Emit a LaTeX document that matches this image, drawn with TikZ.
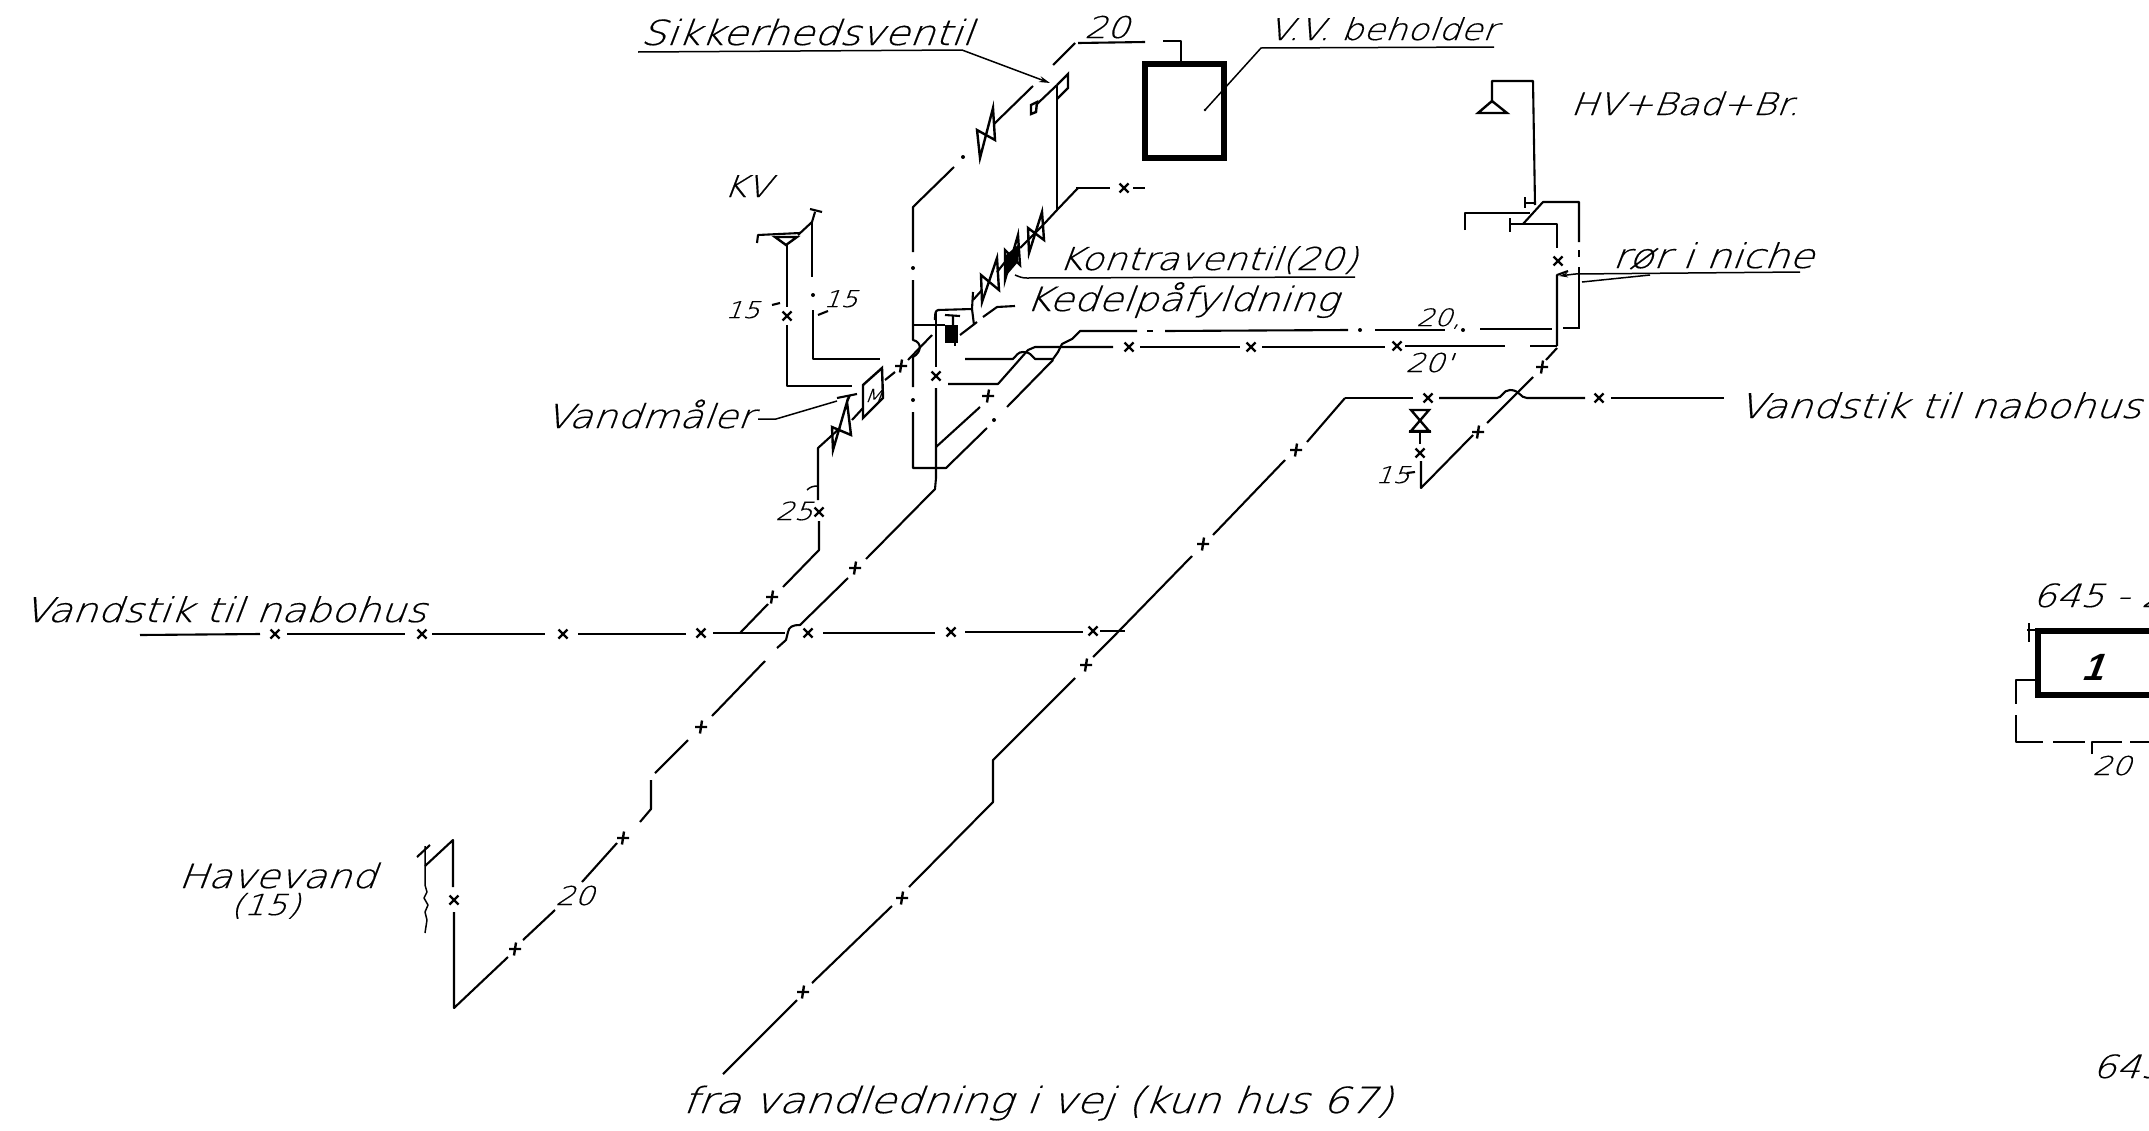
\documentclass[tikz,border=0pt]{standalone}
\usepackage{fontspec}
\usetikzlibrary{arrows.meta}
\newfontfamily\hand[FakeSlant=0.38,FakeStretch=1.17,FakeBold=0.4]{DejaVu Sans ExtraLight}
\newfontfamily\handb[FakeSlant=0.38]{Liberation Sans Bold}
\newcommand\xm[2]{\draw[mark line] (#1,#2) +(-4.5,-4.5) -- +(4.5,4.5) +(-4.5,4.5) -- +(4.5,-4.5);}
\newcommand\pl[2]{\draw[mark line] (#1,#2) +(-6,0) -- +(6,0) +(1,-6.5) -- +(-1,6.5);}
\newcommand\lab[4]{\node[labeltext,font=\hand\fontsize{#3}{#3}\selectfont] at (#1,#2) {#4};}
\tikzset{
  pipe/.style={line width=2.1pt,line join=round,black},
  thin pipe/.style={line width=1.5pt,line join=round,black},
  mark line/.style={line width=2.4pt,black},
  valve/.style={line width=2.4pt,line join=miter,black},
  labeltext/.style={anchor=base west,inner sep=0pt,black},
  vessel/.style={line width=5.6pt,black,line join=miter},
}
\begin{document}
\begin{tikzpicture}[x=1pt,y=-1pt]
\useasboundingbox (0,0) rectangle (2149,1130);
\fill[white] (0,0) rectangle (2149,1130);
\clip (0,0) rectangle (2149,1130);

% ---- labels
\lab{640}{45}{34.5}{Sikkerhedsventil}
\lab{1084}{38}{30}{20}
\lab{1268}{40}{30}{V.V. beholder}
\lab{1570}{115}{31}{HV+Bad+Br.}
\lab{723}{197}{30}{KV}
\lab{1058}{270}{31.5}{Kontraventil(20)}
\lab{1025}{311}{33.5}{Kedelpåfyldning}
\lab{1612}{268}{34}{rør i niche}
\lab{725}{318}{23}{15}
\lab{823}{307}{23}{15}
\lab{1416}{326}{24}{20,}
\lab{1405}{372}{26}{20'}
\lab{545}{428}{33}{Vandmåler}
\lab{775}{520}{25}{25}
\lab{1375}{483}{23}{15}
\lab{1738}{418}{34}{Vandstik til nabohus}
\lab{23}{622}{34}{Vandstik til nabohus}
\lab{178}{888}{33.5}{Havevand}
\lab{230}{915}{29}{(15)}
\lab{555}{905}{26}{20}
\lab{682}{1113}{36}{fra vandledning i vej (kun hus 67)}
\lab{2032}{607}{32}{645 - 2}
\lab{2092}{775}{26}{20}
\lab{2092}{1078}{32}{645}
\node[labeltext,font=\handb\fontsize{38}{38}\selectfont] at (2081,680) {1};
\lab{864}{402}{18}{M}

% ---- leaders
\draw[thin pipe] (638,52) -- (962,50);
\draw[thin pipe,-{Stealth[length=11pt,width=6pt]}] (962,50) -- (1050,83);
\draw[thin pipe] (1494,47) -- (1261,48) -- (1205,110);
\fill (1205,110) circle (1.3pt);
\draw[thin pipe] (1015,275) .. controls (1020,277) and (1022,278) .. (1027,278) -- (1355,277);
\draw[pipe] (960,335) -- (977,322);
\draw[pipe] (983,317) -- (997,307) -- (1015,306);
\draw[thin pipe] (758,419) -- (776,419) -- (837,401);
\draw[thin pipe] (1800,272) -- (1575,274);
\draw[thin pipe,-{Stealth[length=9pt,width=5pt]}] (1575,274) -- (1559,276);
\draw[thin pipe] (1582,282) -- (1650,275);
\draw[pipe] (772,305) -- (780,303);
\draw[pipe] (818,315) -- (828,311);
\draw[pipe] (1407,473) -- (1415,472);
\draw[thin pipe] (807,490) .. controls (810,487) and (813,486) .. (818,486);

% ---- V.V. beholder and feed
\draw[vessel] (1145,64) rectangle (1224,158);
\draw[pipe] (1053,65) -- (1075,43);
\draw[pipe] (1078,43) -- (1145,42);
\draw[pipe] (1163,41) -- (1181,41) -- (1181,62);
\draw[pipe] (1076,188) -- (1110,188);
\xm{1124}{188}
\draw[pipe] (1133,188) -- (1145,188);
\draw[pipe] (1057,85) -- (1057,210);
\draw[pipe] (1078,188) -- (1057,210) -- (1044,224);

% safety valve
\draw[valve] (1057,85) -- (1068,74) -- (1068,88) -- (1057,99);
\draw[pipe] (1037,104) -- (1057,85);
\draw[valve] (1031,105) -- (1037,102) -- (1036,112) -- (1031,114) -- cycle;

% cold riser with check valve
\draw[pipe] (1033,86) -- (994,124);
\draw[valve] (993,108) -- (995,140) -- (977,130) -- (980,158) -- cycle;
\fill (963,157) circle (2pt);
\draw[pipe] (954,167) -- (913,207) -- (913,252);
\fill (913,268) circle (2pt);
\draw[pipe] (913,280) -- (913,340) .. controls (922,342) and (922,352) .. (913,357) -- (913,387);
\fill (913,400) circle (2pt);
\draw[pipe] (913,412) -- (913,468) -- (946,468) -- (987,428);
\fill (994,420) circle (2pt);
\draw[pipe] (1007,407) -- (1053,360);
\draw[pipe] (913,325) -- (945,325);

% three check valves on the hot line
\draw[pipe] (1044,224) -- (1020,248) (1005,262) -- (997,272) (982,290) -- (973,300);
\draw[valve] (1042,212) -- (1044,240) -- (1028,228) -- (1029,253) -- cycle;
\draw[valve] (1018,235) -- (1020,265) -- (1005,250) -- (1005,280) -- cycle;
\fill (1018,245) -- (1018,262) -- (1006,276) -- (1006,255) -- cycle;
\draw[valve] (997,258) -- (999,290) -- (981,275) -- (982,302) -- cycle;
\draw[pipe] (973,292) -- (972,309) -- (938,310) .. controls (935,311) and (935,314) .. (935,320);
\draw[pipe] (972,309) -- (974,325);

% Kedelpaafyldning valve
\draw[pipe] (945,315) -- (960,316) (953,316) -- (953,325);
\fill (945,325) -- (958,325) -- (958,343) -- (945,343) -- cycle;
\draw[pipe] (955,343) -- (955,346);
\draw[pipe] (936,312) -- (936,367);
\xm{936}{376}
\draw[pipe] (936,388) -- (936,478) -- (935,489) -- (866,559);
\draw[pipe] (936,447) -- (980,407);
\pl{988}{396}
\draw[pipe] (948,384) -- (998,384) -- (1028,350) -- (1035,347) -- (1113,347);
\xm{1129}{347}
\draw[pipe] (1140,347) -- (1240,347);
\xm{1251}{347}
\draw[pipe] (1262,347) -- (1385,347);
\xm{1397}{346}
\draw[pipe] (1405,346) -- (1505,346);
\draw[pipe] (1530,346) -- (1557,346);
\draw[pipe] (965,359) -- (1013,359) .. controls (1017,355) and (1018,352) .. (1023,352)
  .. controls (1030,352) and (1031,355) .. (1035,359) -- (1053,359)
  -- (1058,352) -- (1062,344) -- (1072,339) -- (1080,331) -- (1137,331);
\draw[pipe] (1147,331) -- (1153,331);
\draw[pipe] (1165,331) -- (1348,330);
\fill (1360,330) circle (2pt);
\draw[pipe] (1375,330) -- (1445,330);
\fill (1463,330) circle (2pt);
\draw[pipe] (1480,329) -- (1552,329);
\draw[pipe] (1563,328) -- (1580,328);

% meter, cold connection
\draw[valve] (863,385) -- (882,368) -- (883,398) -- (863,418) -- cycle;
\draw[pipe] (885,380) -- (895,372);
\pl{901}{366}
\draw[pipe] (908,360) -- (932,335);
\draw[pipe] (852,420) -- (863,408);
\draw[pipe] (837,398) -- (857,394) (850,395) -- (847,402);
\draw[valve] (847,402) -- (851,435) -- (832,427) -- (833,450) -- cycle;
\draw[pipe] (840,428) -- (818,448) -- (818,500);
\xm{819}{512}
\draw[pipe] (819,521) -- (819,550) -- (783,587);
\pl{772}{597}
\draw[pipe] (768,604) -- (740,633);

% KV
\draw[pipe] (810,209) -- (822,212) (815,212) -- (812,222);
\draw[pipe] (812,222) -- (812,277);
\fill (813,295) circle (2pt);
\draw[pipe] (813,310) -- (813,359) -- (880,359);
\draw[pipe] (812,222) -- (798,235);
\draw[pipe] (757,243) -- (758,235) -- (800,233);
\draw[valve] (775,237) -- (797,237) -- (786,245) -- cycle;
\draw[pipe] (787,245) -- (787,307);
\xm{787}{316}
\draw[pipe] (787,325) -- (787,386) -- (852,386);

% left main: Vandstik
\draw[pipe] (140,635) -- (260,634);
\xm{275}{634}
\draw[pipe] (287,634) -- (405,634);
\xm{422}{634}
\draw[pipe] (432,634) -- (545,634);
\xm{563}{634}
\draw[pipe] (578,634) -- (686,634);
\xm{701}{633}
\draw[pipe] (713,633) -- (785,633);
\xm{808}{633}
\draw[pipe] (823,633) -- (935,633);
\xm{951}{632}
\draw[pipe] (965,632) -- (1083,632);
\xm{1093}{631}
\draw[pipe] (1100,631) -- (1125,631);

% diagonal through hop
\draw[pipe] (777,648) -- (786,640) -- (788,632) .. controls (789,627) and (792,625) .. (800,625) -- (848,578);
\pl{855}{568}
\draw[pipe] (765,661) -- (712,716);
\pl{701}{727}
\draw[pipe] (688,740) -- (655,773);
\draw[pipe] (651,780) -- (651,809) -- (640,822);
\pl{623}{838}
\draw[pipe] (617,843) -- (582,882);
\draw[pipe] (555,910) -- (523,940);
\pl{515}{949}
\draw[pipe] (508,957) -- (454,1008) -- (454,912);
\xm{454}{900}
\draw[pipe] (453,887) -- (453,840) -- (425,866);
\draw[pipe] (417,857) -- (430,845);
\draw[thin pipe] (425,846) -- (425,885) -- (427,892) -- (424,898) -- (428,905) -- (425,912) -- (427,920) -- (425,933);

% right main: supply from road
\draw[pipe] (1557,346) -- (1557,275) -- (1568,271);
\draw[pipe] (1557,348) -- (1546,360);
\pl{1542}{367}
\draw[pipe] (1533,377) -- (1487,423);
\pl{1478}{432}
\draw[pipe] (1473,435) -- (1421,488) -- (1421,461);
\xm{1420}{453}
\draw[pipe] (1420,444) -- (1420,432);
\draw[valve] (1411,410) -- (1429,410) -- (1411,431) -- (1429,431) -- cycle;
\draw[line width=3pt] (1409,431) -- (1431,431);
\draw[pipe] (1345,398) -- (1413,398);
\xm{1428}{398}
\draw[pipe] (1439,398) -- (1497,398) .. controls (1502,398) and (1503,390) .. (1510,390)
  .. controls (1520,390) and (1520,398) .. (1527,398) -- (1585,398);
\xm{1599}{398}
\draw[pipe] (1611,398) -- (1724,398);
\draw[pipe] (1345,398) -- (1307,442);
\pl{1296}{450}
\draw[pipe] (1285,460) -- (1213,535);
\pl{1203}{544}
\draw[pipe] (1192,556) -- (1117,633);
\draw[pipe] (1117,633) -- (1093,657);
\pl{1086}{665}
\draw[pipe] (1075,678) -- (993,760) -- (993,802) -- (909,887);
\pl{902}{898}
\draw[pipe] (892,906) -- (812,983);
\pl{803}{992}
\draw[pipe] (797,1000) -- (723,1074);

% HV + Bad + Br. group
\draw[pipe] (1492,103) -- (1492,81) -- (1533,81) -- (1535,205);
\draw[valve] (1492,101) -- (1478,113) -- (1507,113) -- cycle;
\draw[pipe] (1525,197) -- (1525,208) (1525,203) -- (1534,203);
\draw[pipe] (1465,230) -- (1465,213) -- (1530,213);
\draw[pipe] (1579,242) -- (1579,202) -- (1543,202) -- (1523,224);
\draw[pipe] (1510,218) -- (1510,232) (1510,224) -- (1557,224) -- (1557,248);
\xm{1558}{261}
\draw[pipe] (1579,250) -- (1579,257);
\draw[pipe] (1579,267) -- (1579,328);

% right hand fragment
\draw[line width=6pt,black] (2160,631) -- (2038,631) -- (2038,695) -- (2160,695);
\draw[pipe] (2029,623) -- (2029,642) (2027,630) -- (2038,630);
\draw[pipe] (2038,680) -- (2016,680) -- (2016,704);
\draw[pipe] (2016,715) -- (2016,742) -- (2043,742);
\draw[pipe] (2053,742) -- (2085,742);
\draw[pipe] (2092,754) -- (2092,742) -- (2122,742);
\draw[pipe] (2130,742) -- (2149,742);
\end{tikzpicture}
\end{document}
